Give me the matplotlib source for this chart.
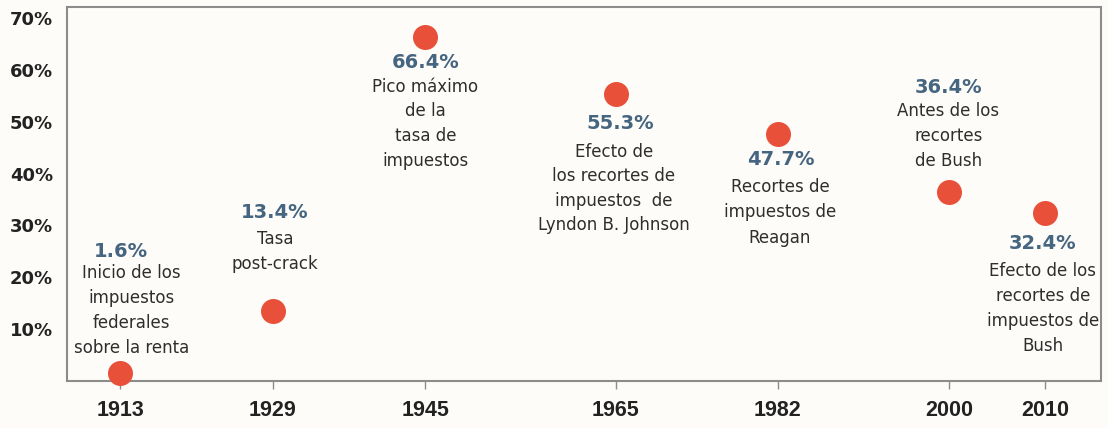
import matplotlib
matplotlib.use("Agg")
import matplotlib.pyplot as plt

years = [1913, 1929, 1945, 1965, 1982, 2000, 2010]
rates = [1.6, 13.4, 66.4, 55.3, 47.7, 36.4, 32.4]
pct_labels = ["1.6%", "13.4%", "66.4%", "55.3%", "47.7%", "36.4%", "32.4%"]
descriptions = [
    ["Inicio de los", "impuestos", "federales", "sobre la renta"],
    ["Tasa", "post-crack"],
    ["Pico máximo", "de la", "tasa de", "impuestos"],
    ["Efecto de", "los recortes de", "impuestos  de", "Lyndon B. Johnson"],
    ["Recortes de", "impuestos de", "Reagan"],
    ["Antes de los", "recortes", "de Bush"],
    ["Efecto de los", "recortes de", "impuestos de", "Bush"],
]
y_ticks = [10, 20, 30, 40, 50, 60, 70]
y_tick_labels = ["10%", "20%", "30%", "40%", "50%", "60%", "70%"]

# label placement in pixels relative to dot: (pct_dx, pct_dy, desc_dx, desc_dy0, line_step)
placement = [
    (1, -121, 11, -100, 25),
    (2, -99, 2, -72, 25),
    (0, 26, 0, 50, 24.7),
    (4, 29, -2, 58, 24.3),
    (3, 26, 2, 53, 25.5),
    (-1, -105, -1, -81, 25),
    (-2, 31, -2, 58, 25),
]

BG = "#fdfcf8"
DOT = "#e8503a"
PCT = "#456580"
TXT = "#2e2e2e"
SPINE = "#8c8c8c"

fig = plt.figure(figsize=(11.08, 4.28), dpi=100, facecolor=BG)
ax = fig.add_axes([67/1108, 1 - 381/428, (1101-67)/1108, (381-7)/428])
ax.set_facecolor(BG)

ax.plot(years, rates, "o", color=DOT, markersize=18, markeredgewidth=0, zorder=3, clip_on=False)

px = 0.72  # pixels -> points
for yr, r, pl, desc, (pdx, pdy, ddx, ddy, step) in zip(years, rates, pct_labels, descriptions, placement):
    ax.annotate(pl, (yr, r), xytext=(pdx*px, -pdy*px), textcoords="offset points",
                ha="center", va="center", fontsize=14, fontweight="bold", color=PCT,
                family="DejaVu Sans")
    for i, line in enumerate(desc):
        ax.annotate(line, (yr, r), xytext=(ddx*px, -(ddy + i*step)*px), textcoords="offset points",
                    ha="center", va="center", fontsize=12, color=TXT, family="DejaVu Sans")

ax.set_xlim(1907.4, 2015.9)
ax.set_ylim(0, 72.1)
ax.set_xticks(years)
ax.set_xticklabels([str(y) for y in years], fontsize=15.5, fontweight="bold",
                   color="#222222", family="Liberation Sans")
ax.set_yticks(y_ticks)
ax.set_yticklabels(y_tick_labels, fontsize=13, fontweight="bold", color="#222222",
                   family="DejaVu Sans")
ax.tick_params(axis="x", length=6, width=1, color=SPINE, direction="out", pad=8)
ax.tick_params(axis="y", length=0, pad=10)
for s in ax.spines.values():
    s.set_color(SPINE)
    s.set_linewidth(1.5)

fig.savefig("out.png", dpi=100, facecolor=BG)
